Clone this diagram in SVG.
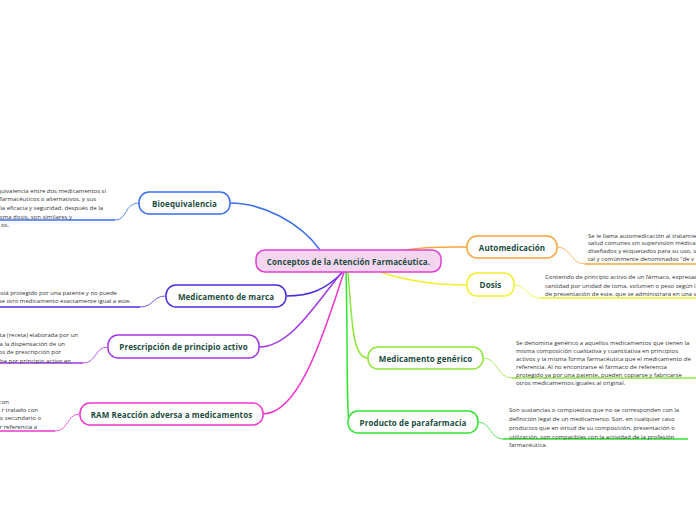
<svg xmlns="http://www.w3.org/2000/svg" width="696" height="520" viewBox="0 0 696 520">
<style>
.n{fill:#fff;stroke-width:1.5}
.t{font-family:"Open Sans",sans-serif;font-weight:bold;font-size:8px;fill:#1b4d3e;text-anchor:middle;dominant-baseline:central;letter-spacing:0.1px}
.s{font-family:"Open Sans",sans-serif;font-size:6px;fill:#333}
.e{text-anchor:end}
.c{fill:none;stroke-width:1.5}
.f{fill:none;stroke-width:0.8}
</style>
<rect width="696" height="520" fill="#fff"/>
<g id="connectors">
<path class="c" stroke="#3a6ef0" d="M320 250 C300 222 262 203 230 203"/>
<path class="f" stroke="#3a6ef0" d="M139 203 C124 203 128 220 115 220"/>
<path class="c" stroke="#3a6ef0" d="M115 220 L0 220"/>
<path class="c" stroke="#4b2de0" d="M343 272 C325 290 310 296 286 296"/>
<path class="f" stroke="#4b2de0" d="M166 296 C152 296 154 307 140 307"/>
<path class="c" stroke="#4b2de0" d="M140 307 L0 307"/>
<path class="c" stroke="#a235e6" d="M342 272 C315 305 290 347 259 347"/>
<path class="f" stroke="#a235e6" d="M108 347 C94 347 97 363 83 363"/>
<path class="c" stroke="#a235e6" d="M83 363 L0 363"/>
<path class="c" stroke="#f035d0" d="M344 272 C325 330 300 414 263 414"/>
<path class="f" stroke="#f035d0" d="M80 414 C66 414 69 431 55 431"/>
<path class="c" stroke="#f035d0" d="M55 431 L0 431"/>
<path class="c" stroke="#f5a53a" d="M405 250 C430 246 450 247 467 247"/>
<path class="f" stroke="#f5a53a" d="M557 247 C571 247 571 264 585 264"/>
<path class="c" stroke="#f5a53a" d="M585 264 L696 264"/>
<path class="c" stroke="#f0f02a" d="M380 272 C410 282 440 285 467 285"/>
<path class="f" stroke="#f0f02a" d="M514 285 C527 285 527 298 540 298"/>
<path class="c" stroke="#f0f02a" d="M540 298 L696 298"/>
<path class="c" stroke="#8fe63a" d="M348 272 C352 320 352 358 368 358"/>
<path class="f" stroke="#8fe63a" d="M483 358 C498 358 497 378 512 378"/>
<path class="c" stroke="#8fe63a" d="M512 378 L696 378"/>
<path class="c" stroke="#2ee62e" d="M346 272 C348 340 346 422 350 422"/>
<path class="f" stroke="#2ee62e" d="M478 422 C491 422 490 439 503 439"/>
<path class="c" stroke="#2ee62e" d="M503 439 L688 439"/>
</g>
<g id="center">
<rect x="256" y="250" width="185" height="22" rx="9" fill="#f5d5f0" stroke="#e040d0" stroke-width="1.5"/>
<text class="t" x="348.5" y="261">Conceptos de la Atención Farmacéutica.</text>
</g>
<g id="bioequivalencia">
<rect class="n" x="139" y="192" width="91" height="22" rx="10" stroke="#3a6ef0"/>
<text class="t" x="184.5" y="203">Bioequivalencia</text>
<text class="s e" x="106" y="192.5">quivalencia entre dos medicamentos si</text>
<text class="s e" x="96" y="201">farmacéuticos o alternativos, y sus</text>
<text class="s e" x="103" y="209.5">la eficacia y seguridad, después de la</text>
<text class="s e" x="72" y="218.5">sma dosis, son similares y</text>
<text class="s e" x="9" y="227">os.</text>
</g>
<g id="marca">
<rect class="n" x="166" y="285" width="120" height="22" rx="10" stroke="#4b2de0"/>
<text class="t" x="226" y="296">Medicamento de marca</text>
<text class="s e" x="117" y="294.5">está protegido por una patente y no puede</text>
<text class="s e" x="131" y="303">se otro medicamento exactamente igual a este.</text>
</g>
<g id="prescripcion">
<rect class="n" x="108" y="335" width="151" height="23" rx="10" stroke="#a235e6"/>
<text class="t" x="183.5" y="346.5">Prescripción de principio activo</text>
<text class="s e" x="78" y="337">ta (receta) elaborada por un</text>
<text class="s e" x="65" y="346">a la dispensación de un</text>
<text class="s e" x="61" y="354">sos de prescripción por</text>
<text class="s e" x="71" y="362.5">be por principio activo en</text>
</g>
<g id="ram">
<rect class="n" x="80" y="403" width="183" height="22" rx="10" stroke="#f035d0"/>
<text class="t" x="171.5" y="414">RAM Reacción adversa a medicamentos</text>
<text class="s e" x="9" y="403.5">con</text>
<text class="s e" x="38" y="412">r tratado con</text>
<text class="s e" x="41" y="420">o secundario o</text>
<text class="s e" x="37" y="428.5">r referencia a</text>
</g>
<g id="automedicacion">
<rect class="n" x="467" y="236" width="90" height="22" rx="10" stroke="#f5a53a"/>
<text class="t" x="512" y="247">Automedicación</text>
<text class="s" x="588" y="237.5">Se le llama automedicación al tratamie</text>
<text class="s" x="588" y="245">salud comunes sin supervisión médica</text>
<text class="s" x="588" y="253">diseñados y etiquetados para su uso, s</text>
<text class="s" x="588" y="261">tal y comúnmente denominados “de v</text>
</g>
<g id="dosis">
<rect class="n" x="467" y="273" width="47" height="23" rx="10" stroke="#f0f02a"/>
<text class="t" x="490.5" y="284.5">Dosis</text>
<text class="s" x="545" y="278.5">Contenido de principio activo de un fármaco, expresad</text>
<text class="s" x="545" y="287.5">cantidad por unidad de toma, volumen o peso según la</text>
<text class="s" x="545" y="296">de presentación de este, que se administrará en una v</text>
</g>
<g id="generico">
<rect class="n" x="368" y="347" width="115" height="22" rx="10" stroke="#8fe63a"/>
<text class="t" x="425.5" y="358">Medicamento genérico</text>
<text class="s" x="516" y="345">Se denomina genérico a aquellos medicamentos que tienen la</text>
<text class="s" x="516" y="353">misma composición cualitativa y cuantitativa en principios</text>
<text class="s" x="516" y="361">activos y la misma forma farmacéutica que el medicamento de</text>
<text class="s" x="516" y="368.5">referencia. Al no encontrarse el fármaco de referencia</text>
<text class="s" x="516" y="377">protegido ya por una patente, pueden copiarse y fabricarse</text>
<text class="s" x="516" y="385">otros medicamentos iguales al original.</text>
</g>
<g id="parafarmacia">
<rect class="n" x="348" y="411" width="130" height="22" rx="10" stroke="#2ee62e"/>
<text class="t" x="413" y="422">Producto de parafarmacia</text>
<text class="s" x="509" y="412">Son sustancias o compuestos que no se corresponden con la</text>
<text class="s" x="509" y="421">definición legal de un medicamento. Son, en cualquier caso</text>
<text class="s" x="509" y="429.5">productos que en virtud de su composición, presentación o</text>
<text class="s" x="509" y="438.5">utilización, son compatibles con la actividad de la profesión</text>
<text class="s" x="509" y="447">farmacéutica.</text>
</g>
</svg>
